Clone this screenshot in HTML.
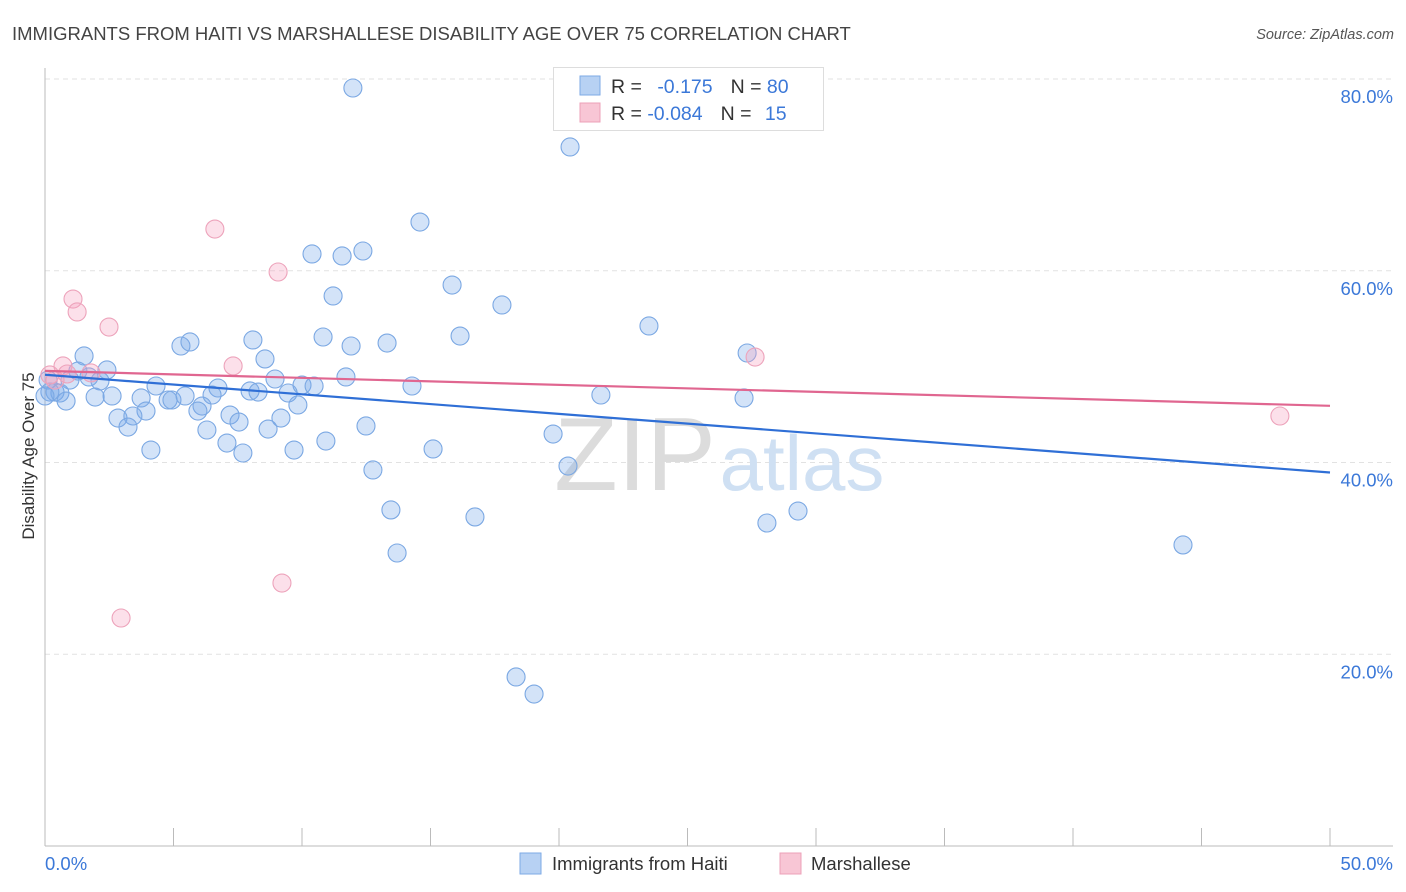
<!DOCTYPE html>
<html><head><meta charset="utf-8">
<style>
body{margin:0;background:#fff;font-family:"Liberation Sans",sans-serif;}
#wrap{position:relative;width:1406px;height:892px;overflow:hidden;}
svg text{font-family:"Liberation Sans",sans-serif;}
</style></head>
<body>
<div id="wrap">
<svg id="chart" width="1406" height="892">
  <text x="12" y="40" font-size="18.5" fill="#444">IMMIGRANTS FROM HAITI VS MARSHALLESE DISABILITY AGE OVER 75 CORRELATION CHART</text>
  <text x="1394" y="39" font-size="14.5" fill="#555" font-style="italic" text-anchor="end">Source: ZipAtlas.com</text>
  <g id="grid"></g>
  <g>
    <text x="635" y="490" font-size="104" fill="#dcdcdc" text-anchor="middle" font-family="Liberation Serif, serif">ZIP</text>
    <text x="802" y="490" font-size="78" fill="#cfe0f3" text-anchor="middle">atlas</text>
  </g>
  <g id="axes"></g>
  <g id="points"></g>
  <g id="lines"></g>
  <text transform="translate(34,456) rotate(-90)" font-size="17" fill="#333" text-anchor="middle">Disability Age Over 75</text>
  <g>
    <rect x="553.5" y="67.5" width="270" height="63" fill="#fff" stroke="#ddd"/>
    <rect x="580" y="76" width="20" height="19" fill="#b7d1f3" stroke="#7eaae6"/>
    <rect x="580" y="103" width="20" height="19" fill="#f8c6d5" stroke="#eca0b8"/>
    <text x="611" y="93" font-size="19.5" fill="#333">R = <tspan fill="#3b78d8" dx="10">-0.175</tspan><tspan dx="18" fill="#333">N = </tspan><tspan fill="#3b78d8">80</tspan></text>
    <text x="611" y="120" font-size="19.5" fill="#333">R = <tspan fill="#3b78d8">-0.084</tspan><tspan dx="18" fill="#333">N = </tspan><tspan fill="#3b78d8" dx="8">15</tspan></text>
  </g>
  <g>
    <rect x="520" y="853" width="21" height="21" fill="#b7d1f3" stroke="#7eaae6"/>
    <text x="552" y="870" font-size="18.5" fill="#333">Immigrants from Haiti</text>
    <rect x="780" y="853" width="21" height="21" fill="#f8c6d5" stroke="#eca0b8"/>
    <text x="811" y="870" font-size="18.5" fill="#333">Marshallese</text>
  </g>
</svg>
</div>
<script>
const haitiX=[11.98,20.43,14.59,10.39,11.56,12.37,15.84,11.21,17.78,23.50,5.29,5.64,8.09,10.82,11.91,13.31,16.15,1.52,8.56,27.32,1.28,2.41,0.12,2.14,1.71,0.97,8.95,11.71,10.00,10.47,14.28,4.32,6.73,7.98,8.29,9.46,21.63,27.20,0.39,0.58,0.82,1.95,2.61,3.74,4.79,4.94,5.45,6.50,6.11,9.84,3.93,5.95,2.84,3.42,7.20,9.18,7.55,3.23,6.30,8.68,12.49,19.77,7.08,10.93,4.12,7.70,9.69,15.10,20.35,12.76,13.46,16.73,28.09,29.30,44.28,13.70,18.33,19.03,0.19,0.0];
const haitiY=[79.06,72.91,65.08,61.75,61.54,62.06,58.51,57.37,56.43,54.24,52.15,52.57,52.78,53.09,52.15,52.46,53.19,51.11,50.80,51.42,49.54,49.65,48.60,48.50,48.92,48.60,48.71,48.92,48.08,47.98,47.98,47.98,47.77,47.46,47.35,47.25,47.04,46.73,47.35,47.25,46.41,46.83,46.94,46.73,46.52,46.52,46.94,47.04,45.89,46.00,45.37,45.37,44.64,44.85,44.95,44.64,44.22,43.70,43.39,43.49,43.81,42.97,42.03,42.24,41.30,40.99,41.30,41.41,39.63,39.22,35.05,34.32,33.69,34.94,31.40,30.56,17.63,15.85,47.35,46.94];
const marshX=[6.61,9.07,1.09,1.25,2.49,7.32,0.70,27.63,0.19,0.39,0.86,1.79,48.05,9.22,2.96];
const marshY=[64.35,59.87,57.05,55.70,54.13,50.07,50.07,51.00,49.13,48.60,49.23,49.34,44.85,27.43,23.78];
const yTicks=[20,40,60,80];
const yTickLabels=["20.0%","40.0%","60.0%","80.0%"];
const xTicks=[0,5,10,15,20,25,30,35,40,45,50];

const NS="http://www.w3.org/2000/svg";
const X0=45,X1=1330,Y0=846,Y80=79;
function sx(v){return X0+(X1-X0)*v/50;}
function sy(v){return Y0-(Y0-Y80)*v/80;}
function mk(tag,attrs,parent){const e=document.createElementNS(NS,tag);for(const k in attrs)e.setAttribute(k,attrs[k]);parent.appendChild(e);return e;}
const grid=document.getElementById('grid'),axes=document.getElementById('axes'),pts=document.getElementById('points'),lines=document.getElementById('lines');
yTicks.forEach((t,i)=>{
  const l=mk('line',{x1:X0,x2:1393,y1:sy(t),y2:sy(t),stroke:'#e2e2e2','stroke-dasharray':'5,4'},grid);
  
  
  const tx=mk('text',{x:1393,y:sy(t)+24,'font-size':18.5,fill:'#3b78d8','text-anchor':'end'},axes);
  tx.textContent=yTickLabels[i];
  
  
});
const yl=mk('line',{x1:X0,x2:X0,y1:68,y2:Y0,stroke:'#bbb'},axes);


const xl=mk('line',{x1:X0,x2:1393,y1:Y0,y2:Y0,stroke:'#bbb'},axes);


xTicks.forEach(t=>{
  const l=mk('line',{x1:sx(t),x2:sx(t),y1:828,y2:Y0,stroke:'#bbb'},axes);
  
  
});
const xa=mk('text',{x:45,y:870,'font-size':18.5,fill:'#3b78d8'},axes);xa.textContent='0.0%';


const xb=mk('text',{x:1393,y:870,'font-size':18.5,fill:'#3b78d8','text-anchor':'end'},axes);xb.textContent='50.0%';



function drawPts(xs,ys,fill,stroke,name){
  xs.forEach((x,i)=>{
    const c=mk('circle',{cx:sx(x),cy:sy(ys[i]),r:9,fill:fill,stroke:stroke,'stroke-width':1.1},pts);
    
    
  });
}
drawPts(haitiX,haitiY,'rgba(120,170,235,0.33)','#7ba8e3','haiti-point');
drawPts(marshX,marshY,'rgba(245,160,190,0.33)','#eda3bb','marshallese-point');

function fit(xs,ys){const n=xs.length;let mx=0,my=0;xs.forEach((x,i)=>{mx+=x;my+=ys[i];});mx/=n;my/=n;let sxy=0,sxx=0;xs.forEach((x,i)=>{sxy+=(x-mx)*(ys[i]-my);sxx+=(x-mx)*(x-mx);});const b=sxy/sxx;return [my-b*mx,b];}
function drawLine(xs,ys,color,name){
  const [a,b]=fit(xs,ys);
  const l=mk('line',{x1:sx(0),y1:sy(a),x2:sx(50),y2:sy(a+b*50),stroke:color,'stroke-width':2.2},lines);
  
  
}
drawLine(haitiX,haitiY,'#2f6fd6','haiti-trend-line');
drawLine(marshX,marshY,'#e06690','marshallese-trend-line');
</script>
</body></html>
